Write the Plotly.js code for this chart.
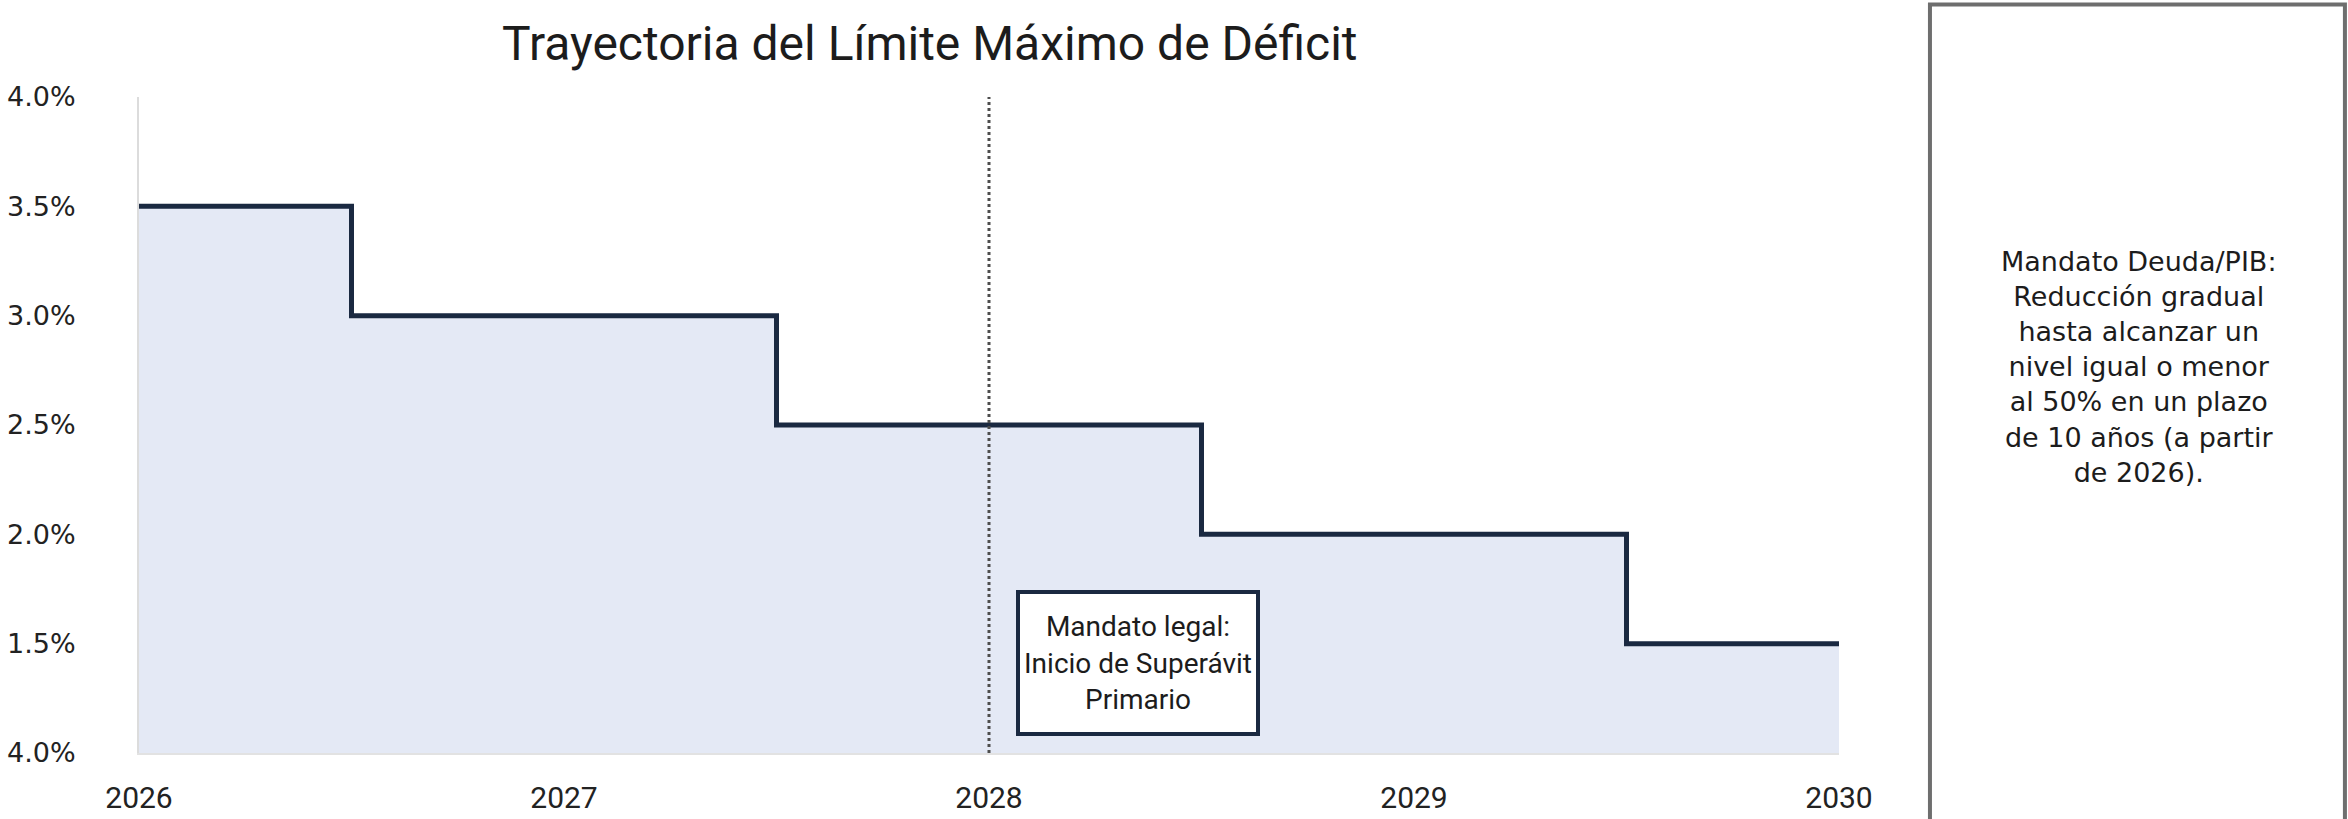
<!DOCTYPE html>
<html>
<head>
<meta charset="utf-8">
<script src="https://cdn.plot.ly/plotly-3.0.1.min.js"></script>
<style>html,body{margin:0;padding:0;background:#fff;}#chart{width:2348px;height:819px;}</style>
</head>
<body>
<div id="chart"></div>
<script>
// Data
const stepYears = [2026, 2026.5, 2027.5, 2028.5, 2029.5, 2030];
const deficitLimit = [3.5, 3.0, 2.5, 2.0, 1.5, 1.5];
const yTickVals = [1.0, 1.5, 2.0, 2.5, 3.0, 3.5, 4.0];
const yTickText = ["4.0%", "1.5%", "2.0%", "2.5%", "3.0%", "3.5%", "4.0%"];
const xTickVals = [2026, 2027, 2028, 2029, 2030];
const xTickText = ["2026", "2027", "2028", "2029", "2030"];
const mandateYear = 2028;
const titleText = "Trayectoria del Límite Máximo de Déficit";
const legalNote = "Mandato legal:<br>Inicio de Superávit<br>Primario";
const debtNote = "Mandato Deuda/PIB:<br>Reducción gradual<br>hasta alcanzar un<br>nivel igual o menor<br>al 50% en un plazo<br>de 10 años (a partir<br>de 2026).";

const navy = "#1a2941";

const trace = {
  x: stepYears,
  y: deficitLimit,
  type: "scatter",
  mode: "lines",
  line: {shape: "hv", color: navy, width: 5},
  fill: "tozeroy",
  fillcolor: "#e4e9f5",
  hoverinfo: "skip",
  showlegend: false
};

const layout = {
  width: 2348,
  height: 819,
  paper_bgcolor: "#ffffff",
  plot_bgcolor: "#ffffff",
  margin: {l: 139, r: 509, t: 97, b: 66},
  title: {
    text: titleText,
    font: {family: "Roboto, sans-serif", size: 48, color: "#1c1c1c"},
    xref: "container", yref: "container",
    x: 0.396, y: 0.947, xanchor: "center", yanchor: "middle"
  },
  xaxis: {
    range: [2026, 2030],
    tickvals: xTickVals,
    ticktext: xTickText,
    showgrid: false,
    zeroline: false,
    showline: true,
    linecolor: "#e2e2e2",
    linewidth: 2,
    ticks: "",
    ticklabelstandoff: 17,
    tickfont: {family: "Roboto, sans-serif", size: 30, color: "#222"},
    fixedrange: true
  },
  yaxis: {
    range: [1.0, 4.0],
    tickvals: yTickVals,
    ticktext: yTickText,
    showgrid: false,
    zeroline: false,
    showline: true,
    linecolor: "#dcdcdc",
    linewidth: 2,
    ticks: "",
    ticklabelstandoff: 56,
    tickfont: {family: "DejaVu Sans, sans-serif", size: 27, color: "#222"},
    fixedrange: true
  },
  shapes: [
    {
      type: "line", xref: "x", yref: "y",
      x0: mandateYear, x1: mandateYear, y0: 1.0, y1: 4.0,
      line: {color: "#4d4d4d", width: 3, dash: "dot"}
    },
    {
      type: "rect", xref: "paper", yref: "paper",
      x0: 1.0535, x1: 1.2976, y0: -0.15, y1: 1.141,
      line: {color: "#6e6e6e", width: 4},
      fillcolor: "rgba(0,0,0,0)"
    }
  ],
  annotations: [
    {
      x: 2028.35, y: 1.41, xref: "x", yref: "y",
      text: legalNote,
      showarrow: false,
      align: "center",
      font: {family: "Roboto, sans-serif", size: 28, color: "#1c1c1c"},
      bgcolor: "#ffffff",
      bordercolor: navy,
      borderwidth: 4,
      borderpad: 4,
      width: 228,
      height: 130
    },
    {
      x: 1.176, y: 0.588, xref: "paper", yref: "paper",
      text: debtNote,
      showarrow: false,
      align: "center",
      xanchor: "center", yanchor: "middle",
      font: {family: "DejaVu Sans, sans-serif", size: 27, color: "#1c1c1c"}
    }
  ]
};

Plotly.newPlot("chart", [trace], layout, {displayModeBar: false, staticPlot: true});
</script>
</body>
</html>
